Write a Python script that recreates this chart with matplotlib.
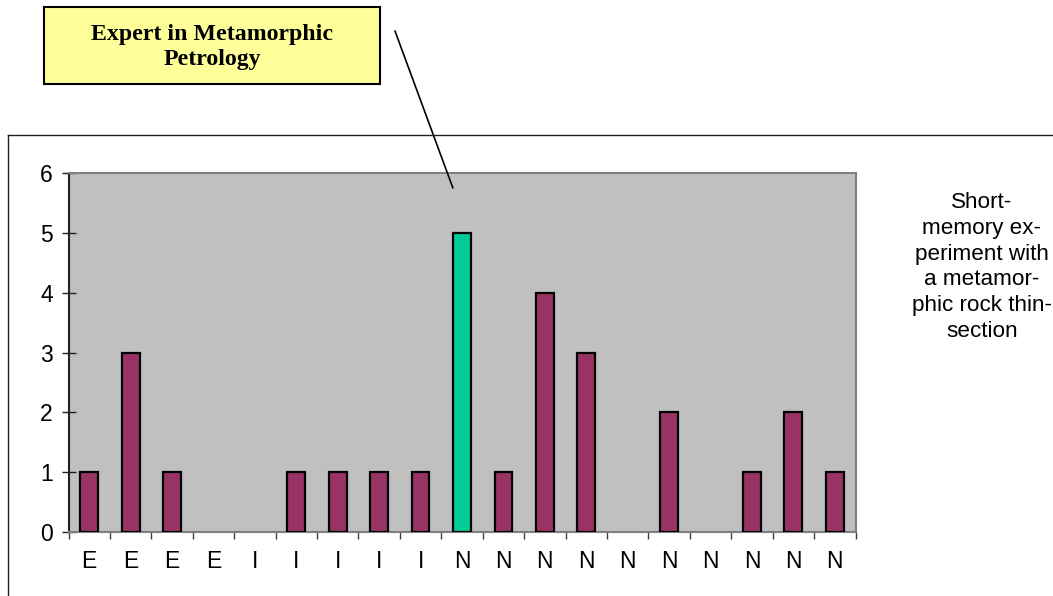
import matplotlib.pyplot as plt
from matplotlib.patches import Rectangle
from matplotlib.lines import Line2D
import numpy as np

# Respuestas por grupo (E = experto, I = intermedio, N = novato)
categories = ["E", "E", "E", "E", "I", "I", "I", "I", "I",
              "N", "N", "N", "N", "N", "N", "N", "N", "N", "N"]
counts = [1, 3, 1, 0, 0, 1, 1, 1, 1, 5, 1, 4, 3, 0, 2, 0, 1, 2, 1]
highlight = 9  # barra del experto en petrología metamórfica

bar_color = "#993366"
hl_color = "#00CC99"
colors = [hl_color if i == highlight else bar_color for i in range(len(counts))]
edges = ["black" if c > 0 else "none" for c in counts]

W, H = 1053, 596
fig = plt.figure(figsize=(W / 100, H / 100), dpi=100)
ax = fig.add_axes([68.5 / W, 1 - 532 / H, (855.5 - 68.5) / W, (532 - 173) / H])
ax.set_facecolor("#C0C0C0")

x = np.arange(len(counts))
ax.bar(x, counts, width=0.43, color=colors, edgecolor=edges, linewidth=1.6, zorder=3)

ax.set_xlim(-0.5, len(counts) - 0.5)
ax.set_ylim(0, 6)

# Marcas en los límites de cada categoría, etiquetas en el centro
ax.set_xticks(np.arange(-0.5, len(counts), 1.0))
ax.set_xticklabels([])
ax.set_xticks(x, minor=True)
ax.set_xticklabels(categories, minor=True, fontsize=16.5, family="Liberation Sans")
ax.tick_params(axis="x", which="major", direction="out", length=5, width=1, color="#404040")
ax.tick_params(axis="x", which="minor", length=0, pad=13)

ax.set_yticks(range(7))
ax.tick_params(axis="y", direction="inout", length=9.5, width=1, color="#202020", pad=6.5)
for lbl in ax.get_yticklabels():
    lbl.set_fontsize(16.5)
    lbl.set_family("Liberation Sans")

for side in ["top", "right", "bottom"]:
    ax.spines[side].set_color("#808080")
    ax.spines[side].set_linewidth(1.5)
ax.spines["left"].set_color("#202020")
ax.spines["left"].set_linewidth(1.5)

# Marco exterior del gráfico
fig.add_artist(Line2D([7.5 / W, 7.5 / W], [0, 1 - 135 / H], color="#202020", lw=1))
fig.add_artist(Line2D([7.5 / W, 1], [1 - 135 / H, 1 - 135 / H], color="#202020", lw=1))

# Texto lateral
fig.text(982 / W, 1 - 267 / H,
         "Short-\nmemory ex-\nperiment with\na metamor-\nphic rock thin-\nsection",
         ha="center", va="center", fontsize=16.2, family="Liberation Sans",
         linespacing=1.31)

# Recuadro del experto con su línea hacia la barra
fig.add_artist(Rectangle((44 / W, 1 - 84 / H), (380 - 44) / W, (84 - 7) / H,
                         transform=fig.transFigure, facecolor="#FFFF99",
                         edgecolor="black", lw=1.5))
fig.text(212 / W, 1 - 47 / H, "Expert in Metamorphic\nPetrology",
         ha="center", va="center", fontsize=17.2, fontweight="bold",
         family="Liberation Serif", linespacing=1.27)
ax.annotate("", xy=(8.78, 5.75), xycoords="data",
            xytext=(395, H - 31), textcoords="figure pixels",
            arrowprops=dict(arrowstyle="-", color="black", lw=1.2,
                            shrinkA=0, shrinkB=0),
            annotation_clip=False)

fig.savefig("out.png", dpi=100)
